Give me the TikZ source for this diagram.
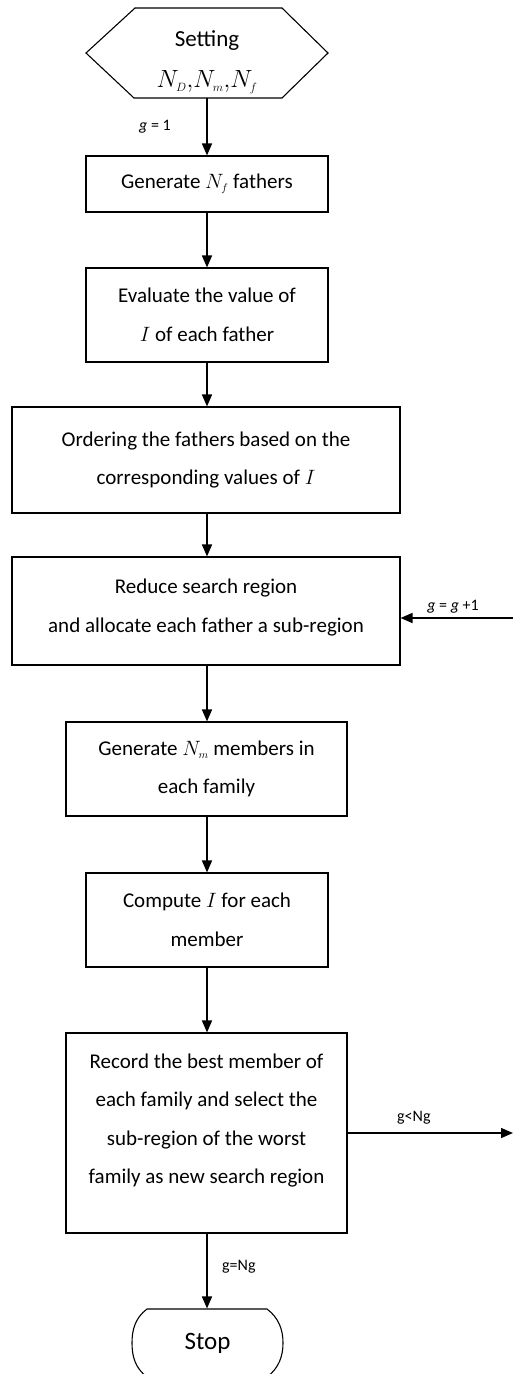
\documentclass[tikz,border=0pt]{standalone}
\usepackage{fontspec}
\setmainfont{Carlito}
\usetikzlibrary{arrows.meta}
\begin{document}
\begin{tikzpicture}[x=1pt,y=-1pt,
  box/.style={draw, line width=1.1pt, inner sep=0pt, align=center, font=\fontsize{21}{38.5}\selectfont},
  flow/.style={line width=1.5pt, -{Triangle[length=12pt,width=10pt]}},
  lab/.style={font=\fontsize{16}{18}\selectfont, inner sep=0pt},
  outline/.style={line width=1.1pt}]
\useasboundingbox (0,0) rectangle (513,1374);
% start hexagon
\node[box, draw=none, minimum width=242pt, minimum height=90pt, font=\fontsize{23}{41}\selectfont] (hex) at (207,62) {Setting\\$N_{\scriptscriptstyle D}{,}N_{\scriptscriptstyle m}{,}N_{\scriptscriptstyle f}$};
\draw[outline] (86,53) -- (135,8) -- (282,8) -- (328,53) -- (282,98) -- (134,98) -- cycle;
\coordinate (hexs) at (207,98);
% boxes
\node[box, minimum width=242pt, minimum height=56pt] (b1) at (207,184) {Generate $N_{\scriptscriptstyle f}$ fathers};
\node[box, minimum width=242pt, minimum height=94pt] (b2) at (207,315) {Evaluate the value of\\$I$ of each father};
\node[box, minimum width=388pt, minimum height=106pt] (b3) at (206,460) {Ordering the fathers based on the\\corresponding values of $I$};
\node[box, minimum width=388pt, minimum height=108pt] (b4) at (206,611) {Reduce search region\\and allocate each father a sub-region\\[-28pt]\mbox{}};
\node[box, minimum width=281pt, minimum height=94pt] (b5) at (206.5,769) {Generate $N_{\scriptscriptstyle m}$ members in\\each family};
\node[box, minimum width=242pt, minimum height=94pt] (b6) at (207,920) {Compute $I$ for each\\member};
\node[box, minimum width=281pt, minimum height=200pt] (b7) at (206.5,1133) {Record the best member of\\each family and select the\\sub-region of the worst\\family as new search region\\[-10pt]\mbox{}};
% stop terminal
\node[box, draw=none, minimum width=151pt, minimum height=68pt, font=\fontsize{25}{30}\selectfont] (stop) at (207.5,1343) {Stop};
\draw[outline] (147,1309) -- (267,1309) .. controls (279,1318) and (283,1330) .. (283,1343) .. controls (283,1356) and (279,1368) .. (267,1377) -- (147,1377) .. controls (135,1368) and (132,1356) .. (132,1343) .. controls (132,1330) and (135,1318) .. (147,1309) -- cycle;
% free ends on the right
\coordinate (r1) at (513,618);
\coordinate (r2) at (513,1133);
% connectors
\draw[flow] (hexs) -- (hexs |- b1.north);
\draw[flow] (b1.south) -- (b1.south |- b2.north);
\draw[flow] (b2.south) -- (b2.south |- b3.north);
\draw[flow] (b2.south |- b3.south) -- (b2.south |- b4.north);
\draw[flow] (b2.south |- b4.south) -- (b2.south |- b5.north);
\draw[flow] (b6.north |- b5.south) -- (b6.north);
\draw[flow] (b6.south) -- (b6.south |- b7.north);
\draw[flow] (b6.south |- b7.south) -- (b6.south |- stop.north);
\draw[flow] (r1) -- (b4.east |- r1);
\draw[flow] (b7.east |- r2) -- (r2);
% labels
\node[lab] (l1) at (155,127) {\textit{g} = 1};
\node[lab] (l2) at (453,607) {\textit{g} = \textit{g} +1};
\node[lab, anchor=west] (l3) at (397,1118) {g<Ng};
\node[lab, anchor=west] (l4) at (222,1267) {g=Ng};
\end{tikzpicture}
\end{document}
